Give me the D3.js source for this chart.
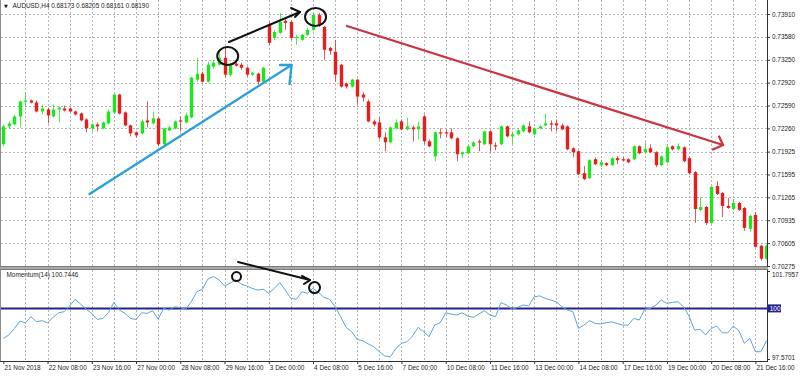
<!DOCTYPE html>
<html>
<head>
<meta charset="utf-8">
<script src="https://cdn.jsdelivr.net/npm/d3@7"></script>
<style>
body { margin: 0; background: #fff; }
text { font-family: "Liberation Sans", Arial, sans-serif; font-size: 6.4px; fill: #1c1c1c; }
</style>
</head>
<body>
<div id="chart"></div>
<script>
// AUDUSD H4, 21 Nov - 21 Dec 2018
const opens = [
  0.72031,0.72289,0.72317,0.72432,0.72648,0.72662,0.72633,0.72504,0.72533,0.72432,
  0.72533,0.72547,0.72547,0.72504,0.72475,0.72389,0.72260,0.72317,0.72260,0.72332,
  0.72490,0.72748,0.72490,0.72303,0.72203,0.72188,0.72375,0.72332,0.72404,0.72031,
  0.72231,0.72260,0.72375,0.72346,0.72418,0.72963,0.73049,0.72934,0.73150,0.73178,
  0.73279,0.73035,0.73193,0.73178,0.73135,0.73035,0.73049,0.72934,0.73752,0.73566,
  0.73638,0.73810,0.73795,0.73566,0.73537,0.73609,0.73681,0.73896,0.73724,0.73422,
  0.73365,0.73178,0.72906,0.72863,0.72963,0.72748,0.72648,0.72361,0.72346,0.72131,
  0.72059,0.72260,0.72361,0.72246,0.72274,0.72246,0.72432,0.72074,0.71858,0.72203,
  0.72203,0.72203,0.72117,0.71887,0.71901,0.72002,0.72074,0.72031,0.72217,0.72016,
  0.72031,0.72289,0.72145,0.72174,0.72217,0.72289,0.72174,0.72260,0.72303,0.72332,
  0.72332,0.72303,0.72289,0.71973,0.71930,0.71614,0.71543,0.71815,0.71729,0.71758,
  0.71729,0.71830,0.71815,0.71815,0.71815,0.72002,0.71916,0.71973,0.71916,0.71729,
  0.71772,0.72002,0.71959,0.71987,0.71830,0.71629,0.71084,0.71127,0.70897,0.71428,
  0.71328,0.71141,0.71098,0.71184,0.71112,0.70811,0.71012,0.70567,0.70380
];
const highs = [
  0.72317,0.72361,0.72461,0.72662,0.72777,0.72676,0.72662,0.72604,0.72561,0.72604,
  0.72576,0.72590,0.72561,0.72518,0.72490,0.72404,0.72332,0.72346,0.72361,0.72533,
  0.72762,0.72762,0.72504,0.72317,0.72217,0.72389,0.72648,0.72504,0.72418,0.72274,
  0.72303,0.72375,0.72432,0.72490,0.73006,0.73279,0.73078,0.73221,0.73250,0.73394,
  0.73422,0.73207,0.73221,0.73207,0.73150,0.73078,0.73064,0.73150,0.73795,0.73681,
  0.73924,0.73853,0.73810,0.73609,0.73623,0.73709,0.73924,0.73924,0.73738,0.73437,
  0.73537,0.73193,0.72920,0.72977,0.72977,0.72777,0.72676,0.72389,0.72418,0.72203,
  0.72289,0.72389,0.72389,0.72418,0.72303,0.72361,0.72461,0.72102,0.72217,0.72260,
  0.72246,0.72260,0.72131,0.71930,0.72016,0.72074,0.72102,0.72231,0.72231,0.72059,
  0.72303,0.72303,0.72217,0.72246,0.72317,0.72361,0.72274,0.72303,0.72475,0.72375,
  0.72389,0.72332,0.72303,0.71987,0.71944,0.71715,0.71815,0.71844,0.71801,0.71772,
  0.71844,0.71858,0.71844,0.71830,0.72016,0.72016,0.72059,0.72031,0.71930,0.71873,
  0.72031,0.72016,0.72045,0.72002,0.71844,0.71643,0.71270,0.71141,0.71428,0.71500,
  0.71342,0.71256,0.71241,0.71198,0.71127,0.71012,0.71055,0.70581,0.70581
];
const lows = [
  0.72002,0.72246,0.72303,0.72274,0.72576,0.72619,0.72490,0.72461,0.72332,0.72418,
  0.72346,0.72504,0.72490,0.72447,0.72361,0.72203,0.72217,0.72217,0.72246,0.72317,
  0.72475,0.72461,0.72289,0.72145,0.72131,0.72174,0.72274,0.72317,0.72002,0.72016,
  0.72217,0.72246,0.72217,0.72332,0.72404,0.72934,0.72920,0.72920,0.73121,0.73164,
  0.72992,0.73006,0.73150,0.73107,0.73006,0.73020,0.72891,0.72920,0.73465,0.73537,
  0.73623,0.73681,0.73537,0.73465,0.73523,0.73594,0.73666,0.73724,0.73250,0.73322,
  0.72934,0.72848,0.72834,0.72848,0.72604,0.72648,0.72346,0.72289,0.72102,0.71930,
  0.72045,0.72246,0.72231,0.72231,0.72074,0.72102,0.72031,0.71987,0.71786,0.72117,
  0.72131,0.72102,0.71786,0.71830,0.71887,0.71987,0.71930,0.72016,0.71916,0.71944,
  0.72016,0.72131,0.72031,0.72160,0.72203,0.72188,0.72160,0.72246,0.72289,0.72217,
  0.72217,0.72231,0.71944,0.71844,0.71586,0.71514,0.71528,0.71729,0.71700,0.71715,
  0.71715,0.71743,0.71786,0.71758,0.71801,0.71887,0.71901,0.71901,0.71700,0.71715,
  0.71758,0.71944,0.71944,0.71772,0.71600,0.70897,0.71069,0.70868,0.70883,0.71299,
  0.70983,0.71098,0.71084,0.71069,0.70782,0.70768,0.70538,0.70352,0.70366
];
const closes = [
  0.72289,0.72332,0.72432,0.72648,0.72662,0.72633,0.72504,0.72547,0.72447,0.72533,
  0.72561,0.72518,0.72504,0.72461,0.72375,0.72260,0.72317,0.72289,0.72346,0.72504,
  0.72748,0.72475,0.72303,0.72188,0.72160,0.72361,0.72346,0.72404,0.72031,0.72260,
  0.72274,0.72361,0.72361,0.72447,0.72992,0.73049,0.72934,0.73178,0.73207,0.73279,
  0.73035,0.73178,0.73164,0.73135,0.73035,0.73064,0.72934,0.73135,0.73494,0.73652,
  0.73795,0.73781,0.73566,0.73580,0.73609,0.73681,0.73896,0.73752,0.73394,0.73379,
  0.73035,0.72863,0.72863,0.72963,0.72719,0.72705,0.72361,0.72317,0.72131,0.72059,
  0.72274,0.72346,0.72246,0.72289,0.72246,0.72289,0.72074,0.72002,0.72203,0.72188,
  0.72188,0.72117,0.71887,0.71916,0.72002,0.72059,0.72059,0.72217,0.72031,0.72002,
  0.72289,0.72145,0.72174,0.72231,0.72303,0.72203,0.72260,0.72289,0.72332,0.72317,
  0.72303,0.72246,0.71959,0.71916,0.71600,0.71528,0.71801,0.71743,0.71772,0.71729,
  0.71830,0.71801,0.71801,0.71772,0.72002,0.71901,0.71959,0.71916,0.71729,0.71858,
  0.71987,0.71959,0.72002,0.71786,0.71614,0.71098,0.71127,0.70897,0.71414,0.71313,
  0.71141,0.71112,0.71184,0.71084,0.70825,0.70997,0.70552,0.70380,0.70567
];

// Momentum(14)
const momentum = [
  98.56,98.72,99.04,99.39,99.31,99.60,99.36,99.41,99.31,99.57,
  99.79,99.84,100.12,100.44,100.20,99.96,99.76,99.47,99.52,99.79,
  100.29,99.92,99.76,99.52,99.47,99.79,99.76,99.89,99.49,100.00,
  99.92,100.08,100.04,99.96,100.32,100.80,100.92,101.41,101.53,101.37,
  101.08,101.21,101.37,101.17,101.08,100.96,100.88,100.92,100.72,100.96,
  101.24,100.88,100.48,100.44,100.80,100.72,100.96,100.76,100.53,100.44,
  100.08,99.60,99.09,98.88,98.51,98.45,98.29,98.16,97.92,97.71,
  97.68,98.08,98.32,98.40,98.67,99.09,98.88,98.64,99.20,99.31,
  99.79,99.73,99.68,99.79,99.63,99.57,99.73,99.89,99.68,99.60,
  100.28,100.16,99.96,100.05,100.16,100.12,100.56,100.60,100.48,100.40,
  100.32,100.08,99.92,99.84,99.04,99.20,99.41,99.28,99.25,99.31,
  99.35,99.28,99.20,99.20,99.52,99.44,99.96,100.00,100.16,100.40,
  100.24,100.29,100.32,100.08,99.63,98.96,99.00,98.72,99.04,99.15,
  98.83,98.83,99.15,98.93,98.32,98.56,97.92,97.92,98.45
];

const priceTicks = [0.73910,0.73580,0.73250,0.72920,0.72590,0.72260,0.71925,0.71595,0.71265,0.70935,0.70605,0.70275];
const momTicks = [101.7957, 97.5701];
const momLevel = 100;
const timeLabels = ["21 Nov 2018","22 Nov 08:00","23 Nov 16:00","27 Nov 00:00","28 Nov 08:00","29 Nov 16:00",
  "3 Dec 00:00","4 Dec 08:00","5 Dec 16:00","7 Dec 00:00","10 Dec 08:00","11 Dec 16:00","13 Dec 00:00",
  "14 Dec 08:00","17 Dec 16:00","19 Dec 00:00","20 Dec 08:00","21 Dec 16:00"];
const barsPerLabel = 8;

// hand drawn objects, in [bar, price] / [bar, momentum]
const blueArrow = [[15.59,0.71313],[52.12,0.73174]];
const blueHead = [[50.04,0.73174],[52.12,0.73174],[51.75,0.72900]];
const blackArrow = [[40.81,0.73506],[53.65,0.73939]];
const blackHead = [[52.03,0.73997],[53.65,0.73939],[52.75,0.73867]];
const redArrow = [[62.15,0.73737],[130.15,0.72020]];
const redHead = [[129.43,0.72143],[130.15,0.72020],[128.33,0.71955]];
const priceCircles = [[40.58,0.73304],[56.46,0.73867]];
const momArrow = [[42.44,102.23],[55.46,101.36]];
const momHead = [[54.01,101.56],[55.46,101.36],[54.37,101.17]];
const momCircles = [[42.17,101.53,4.5],[56.28,101.00,5.5]];

const W = 800, H = 378;
const plotRight = 767;
const mainTop = 0, mainBottom = 266;
const subTop = 270, subBottom = 361;

const svg = d3.select("#chart").append("svg")
    .attr("width", W).attr("height", H);

const x = d3.scaleLinear().domain([0, 136]).range([3.3, 755.4]);
const y = d3.scaleLinear().domain([0.70275, 0.73910]).range([266, 14]);
const ym = d3.scaleLinear().domain([97.5701, 101.7957]).range([359, 271]);

svg.append("defs").append("clipPath").attr("id", "clipMain")
  .append("rect").attr("x", 1).attr("y", mainTop).attr("width", plotRight - 1).attr("height", mainBottom - mainTop);
svg.select("defs").append("clipPath").attr("id", "clipSub")
  .append("rect").attr("x", 1).attr("y", subTop).attr("width", plotRight - 1).attr("height", subBottom - subTop);

// grid
const gridIdx = d3.range(4, 137, 4);
const grid = svg.append("g").attr("stroke", "#b4b4b4").attr("stroke-width", 1).attr("stroke-dasharray", "2,2");
grid.selectAll(".vg").data(gridIdx).join("line")
    .attr("x1", d => Math.round(x(d)) + 0.5).attr("x2", d => Math.round(x(d)) + 0.5)
    .attr("y1", mainTop).attr("y2", mainBottom);
grid.selectAll(".vs").data(gridIdx).join("line")
    .attr("x1", d => Math.round(x(d)) + 0.5).attr("x2", d => Math.round(x(d)) + 0.5)
    .attr("y1", subTop).attr("y2", subBottom);
grid.selectAll(".hg").data(priceTicks.slice(0, -1)).join("line")
    .attr("x1", 1).attr("x2", plotRight)
    .attr("y1", d => Math.round(y(d)) + 0.5).attr("y2", d => Math.round(y(d)) + 0.5);

// candles
const bull = "#1ee61e", bear = "#e61e1e";
const candles = svg.append("g").attr("clip-path", "url(#clipMain)");
const idx = d3.range(opens.length);
candles.selectAll("line.wick").data(idx).join("line")
    .attr("class", "wick")
    .attr("x1", i => Math.round(x(i)) + 0.5).attr("x2", i => Math.round(x(i)) + 0.5)
    .attr("y1", i => y(highs[i])).attr("y2", i => y(lows[i]))
    .attr("stroke", i => closes[i] >= opens[i] ? bull : bear)
    .attr("stroke-opacity", 0.75);
candles.selectAll("rect.body").data(idx).join("rect")
    .attr("class", "body")
    .attr("x", i => Math.round(x(i)) - 1.2).attr("width", 3.4)
    .attr("y", i => y(Math.max(opens[i], closes[i])))
    .attr("height", i => Math.max(1.2, Math.abs(y(opens[i]) - y(closes[i]))))
    .attr("fill", i => closes[i] >= opens[i] ? bull : bear);

// momentum
const sub = svg.append("g").attr("clip-path", "url(#clipSub)");
sub.append("line").attr("x1", 1).attr("x2", plotRight)
    .attr("y1", ym(momLevel)).attr("y2", ym(momLevel))
    .attr("stroke", "#23238a").attr("stroke-width", 2);
sub.append("path").datum(momentum)
    .attr("fill", "none").attr("stroke", "#5ea4dc").attr("stroke-width", 1)
    .attr("d", d3.line().x((d, i) => x(i)).y(d => ym(d)));

// frames
const frame = svg.append("g").attr("fill", "none");
frame.append("line").attr("x1", 0.5).attr("x2", 0.5).attr("y1", 0).attr("y2", subBottom).attr("stroke", "#8c8c8c");
frame.append("line").attr("x1", plotRight + 0.5).attr("x2", plotRight + 0.5).attr("y1", 0).attr("y2", subBottom).attr("stroke", "#333");
svg.append("rect").attr("x", 0).attr("y", mainBottom).attr("width", plotRight + 1).attr("height", 4).attr("fill", "#7c7c7c");
svg.append("rect").attr("x", 0).attr("y", mainBottom + 1).attr("width", plotRight + 1).attr("height", 2).attr("fill", "#a9a9a9");
frame.append("line").attr("x1", 0).attr("x2", plotRight + 1).attr("y1", subBottom + 0.5).attr("y2", subBottom + 0.5).attr("stroke", "#333");

// price axis
const pAxis = svg.append("g").attr("transform", `translate(${plotRight},0)`)
    .call(d3.axisRight(y).tickValues(priceTicks).tickFormat(d3.format(".5f")).tickSize(3).tickPadding(2));
pAxis.select(".domain").remove();
pAxis.selectAll("line").attr("stroke", "#333");
pAxis.attr("font-family", null).attr("font-size", null);

// momentum axis
const mAxis = svg.append("g").attr("transform", `translate(${plotRight},0)`)
    .call(d3.axisRight(ym).tickValues(momTicks).tickFormat(d3.format(".4f")).tickSize(3).tickPadding(2));
mAxis.select(".domain").remove();
mAxis.selectAll("line").attr("stroke", "#333");
mAxis.attr("font-family", null).attr("font-size", null);
mAxis.selectAll("text").attr("dy", (d, i) => i === 0 ? "0.9em" : "0.05em");
const lvl = svg.append("g").attr("transform", `translate(${plotRight + 1},${ym(momLevel)})`);
lvl.append("rect").attr("x", 0).attr("y", -4).attr("width", 13).attr("height", 8).attr("fill", "#23238a");
lvl.append("text").attr("x", 1.8).attr("y", 2.4).style("fill", "#fff").text("100");

// time axis
const labelIdx = timeLabels.map((d, i) => i * barsPerLabel);
const tAxis = svg.append("g").attr("transform", `translate(0,${subBottom})`)
    .call(d3.axisBottom(x).tickValues(labelIdx).tickFormat((d, i) => timeLabels[i]).tickSize(3).tickPadding(2));
tAxis.select(".domain").remove();
tAxis.selectAll("line").attr("stroke", "#333");
tAxis.attr("font-family", null).attr("font-size", null);
tAxis.selectAll("text").attr("text-anchor", "start").attr("dx", "0.1em").attr("dy", "0.6em");

// header texts
svg.append("text").attr("x", 4).attr("y", 7.6).style("font-size", "5px").style("font-family", "DejaVu Sans").text("\u25BC");
svg.append("text").attr("x", 12.5).attr("y", 7.6).text("AUDUSD,H4  0.68173 0.68205 0.68161 0.68190");
svg.append("text").attr("x", 6.5).attr("y", 277.4).text("Momentum(14) 100.7446");

// drawn objects
const lp = d3.line().x(d => x(d[0])).y(d => y(d[1]));
const lm = d3.line().x(d => x(d[0])).y(d => ym(d[1]));
const draw = svg.append("g").attr("fill", "none").attr("stroke-linecap", "round").attr("stroke-linejoin", "round");
draw.append("path").attr("d", lp(blueArrow)).attr("stroke", "#27a0dc").attr("stroke-width", 2.3);
draw.append("path").attr("d", lp(blueHead)).attr("stroke", "#27a0dc").attr("stroke-width", 2.3);
draw.append("path").attr("d", lp(redArrow)).attr("stroke", "#c93440").attr("stroke-width", 2.3);
draw.append("path").attr("d", lp(redHead)).attr("stroke", "#c93440").attr("stroke-width", 2.3);
draw.append("path").attr("d", lp(blackArrow)).attr("stroke", "#111").attr("stroke-width", 2);
draw.append("path").attr("d", lp(blackHead)).attr("stroke", "#111").attr("stroke-width", 2);
draw.selectAll("ellipse").data(priceCircles).join("ellipse")
    .attr("cx", d => x(d[0])).attr("cy", d => y(d[1])).attr("rx", 10.5).attr("ry", 9)
    .attr("stroke", "#111").attr("stroke-width", 2);
draw.append("path").attr("d", lm(momArrow)).attr("stroke", "#111").attr("stroke-width", 2);
draw.append("path").attr("d", lm(momHead)).attr("stroke", "#111").attr("stroke-width", 2);
draw.selectAll("circle").data(momCircles).join("circle")
    .attr("cx", d => x(d[0])).attr("cy", d => ym(d[1])).attr("r", d => d[2])
    .attr("stroke", "#111").attr("stroke-width", 2);
</script>
</body>
</html>
